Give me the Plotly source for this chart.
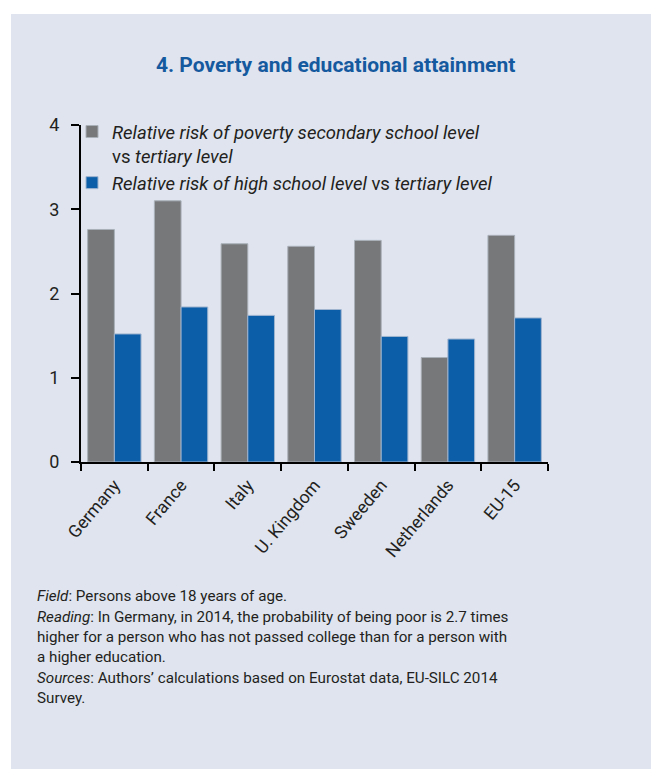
import plotly.graph_objects as go

countries = ["Germany", "France", "Italy", "U. Kingdom", "Sweeden", "Netherlands", "EU-15"]
secondary_vs_tertiary = [2.76, 3.10, 2.59, 2.56, 2.63, 1.24, 2.69]
highschool_vs_tertiary = [1.52, 1.84, 1.74, 1.81, 1.49, 1.46, 1.71]

name_secondary = "<i>Relative risk of poverty secondary school level</i><br>vs <i>tertiary level</i>"
name_high = "<i>Relative risk of high school level</i> vs <i>tertiary level</i>"

title_text = "<b>4. Poverty and educational attainment</b>"
footer_paragraphs = [
    ("<i>Field</i>: Persons above 18 years of age.", 596),
    ("<i>Reading</i>: In Germany, in 2014, the probability of being poor is 2.7 times<br>"
     "higher for a person who has not passed college than for a person with<br>"
     "a higher education.", 637),
    ("<i>Sources</i>: Authors\u2019 calculations based on Eurostat data, EU-SILC 2014<br>"
     "Survey.", 688),
]

W, H = 651, 769
ML, MR, MT, MB = 81, 103, 125, 307
PW = W - ML - MR
PH = H - MT - MB

GREY = "#76787a"
BLUE = "#0d5ea8"
BOX = "#dfe4ef"
TXT = "#231f20"

fig = go.Figure()
fig.add_trace(go.Bar(x=countries, y=secondary_vs_tertiary, name=name_secondary,
                     marker=dict(color=GREY, line=dict(color="#aab0b8", width=1))))
fig.add_trace(go.Bar(x=countries, y=highschool_vs_tertiary, name=name_high,
                     marker=dict(color=BLUE, line=dict(color="#9fb4cf", width=1))))


def px_x(x):
    return (x - ML) / PW


def px_y(y):
    return (H - MB - y) / PH


shapes = [dict(type="rect", xref="paper", yref="paper", layer="below",
               x0=px_x(11), x1=px_x(W + 5), y0=px_y(H + 5), y1=px_y(14),
               fillcolor=BOX, line=dict(width=0))]

annotations = [dict(text=title_text, xref="paper", yref="paper",
                    x=px_x(335), y=px_y(65), xanchor="center", yanchor="middle",
                    showarrow=False, font=dict(family="Roboto", size=21, color="#15599f"))]
for txt, yy in footer_paragraphs:
    annotations.append(dict(text=txt, xref="paper", yref="paper", align="left",
                            x=px_x(35), y=px_y(yy), xanchor="left", yanchor="middle",
                            showarrow=False, font=dict(family="Roboto", size=15.2, color=TXT)))

fig.update_layout(
    width=W, height=H,
    margin=dict(l=ML, r=MR, t=MT, b=MB),
    paper_bgcolor="white",
    plot_bgcolor="rgba(0,0,0,0)",
    barmode="group",
    bargap=0.2,
    bargroupgap=0,
    font=dict(family="Roboto", color=TXT),
    showlegend=True,
    legend=dict(x=px_x(72), y=px_y(113), xanchor="left", yanchor="top",
                bgcolor="rgba(0,0,0,0)", font=dict(family="Roboto", size=18.5, color=TXT),
                itemwidth=30, valign="top", tracegroupgap=0, traceorder="normal"),
    shapes=shapes,
    annotations=annotations,
    xaxis=dict(showline=True, linecolor="black", linewidth=2, ticks="outside",
               tickson="boundaries", ticklen=7, tickwidth=2, tickcolor="black",
               tickangle=-50, tickfont=dict(family="Roboto", size=17.5, color=TXT),
               ticklabelstandoff=4,
               showgrid=False, zeroline=False, fixedrange=True),
    yaxis=dict(range=[0, 4], tickvals=[0, 1, 2, 3, 4], showline=True, linecolor="black",
               linewidth=2, ticks="outside", ticklen=8, tickwidth=2, tickcolor="black",
               ticklabelstandoff=8,
               tickfont=dict(family="Roboto", size=18, color=TXT), showgrid=False,
               zeroline=False, fixedrange=True),
)

fig.write_html("out.html")
